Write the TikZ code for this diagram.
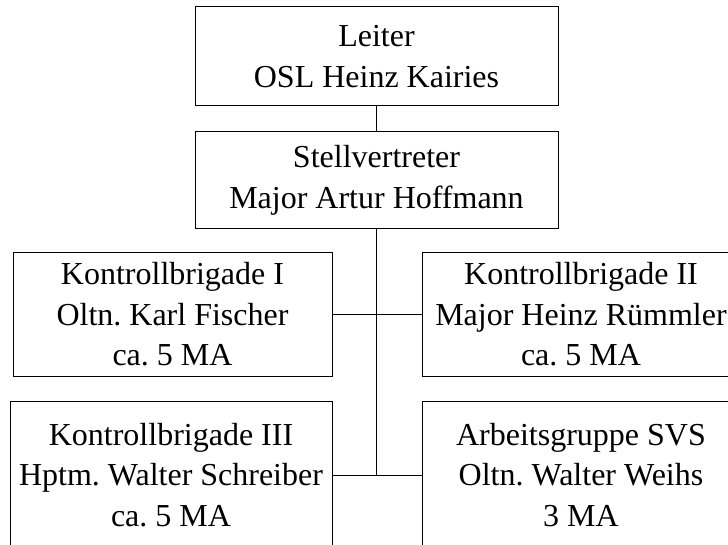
\documentclass[tikz,border=0pt]{standalone}
\usepackage{fontspec}
\setmainfont{Liberation Serif}
\frenchspacing
\begin{document}
\begin{tikzpicture}[x=1pt,y=-1pt,
  orgbox/.style={draw=black, line width=1pt, rectangle, inner sep=0pt,
    align=center, font=\fontsize{32}{40.5}\selectfont},
  link/.style={draw=black, line width=1pt}]
\useasboundingbox (0,0) rectangle (728,545);
\clip (0,0) rectangle (728,545);

% management
\node[orgbox, minimum width=363pt, minimum height=99pt] (leiter) at (376.5,56.5)
  {Leiter\\OSL Heinz Kairies};
\node[orgbox, minimum width=363pt, minimum height=97.5pt] (stv) at (376.5,180.25)
  {Stellvertreter\\Major Artur Hoffmann};

% units
\node[orgbox, minimum width=319pt, minimum height=123pt] (kb1) at (172.5,314.5)
  {Kontrollbrigade I\\Oltn. Karl Fischer\\ca. 5 MA};
\node[orgbox, minimum width=318pt, minimum height=123pt] (kb2) at (581,314.5)
  {Kontrollbrigade II\\Major Heinz Rümmler\\ca. 5 MA};
\node[orgbox, minimum width=322pt, minimum height=148pt] (kb3) at (171,475)
  {Kontrollbrigade III\\Hptm. Walter Schreiber\\ca. 5 MA};
\node[orgbox, minimum width=318pt, minimum height=148pt] (svs) at (581,475)
  {Arbeitsgruppe SVS\\Oltn. Walter Weihs\\3 MA};

% connectors
\coordinate (trunk) at (376.5,475);
\draw[link] (leiter.south) -- (stv.north);
\draw[link] (stv.south) -- (trunk);
\draw[link] (kb1.east) -- (kb2.west);
\draw[link] (kb3.east) -- (svs.west);
\end{tikzpicture}
\end{document}
